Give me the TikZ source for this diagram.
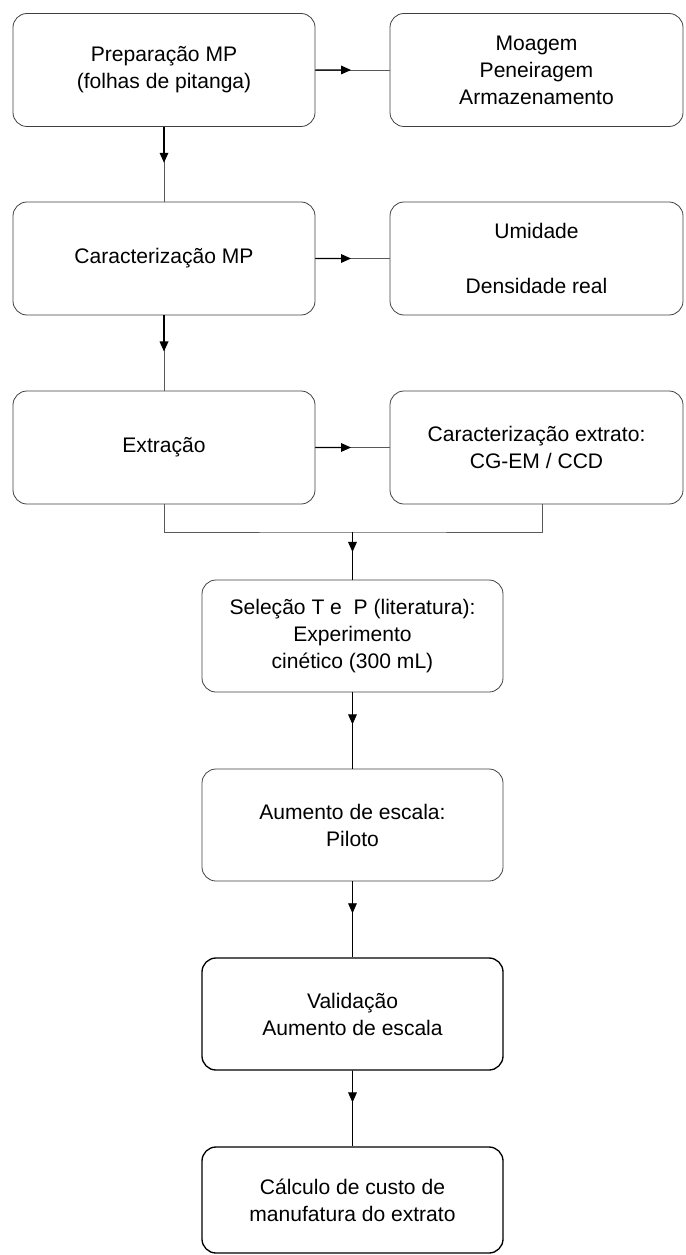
\documentclass[tikz,border=0pt]{standalone}
\usepackage{fontspec}
\setmainfont{Liberation Sans}
\usepackage{tikz}
\usetikzlibrary{arrows.meta,calc}

\begin{document}
\begin{tikzpicture}[
    x=0.75pt, y=-0.75pt,
    box/.style={draw=black!75, line width=0.6pt, rounded corners=10.5pt,
      align=center, inner sep=2pt, font=\fontsize{15.8}{20.3}\selectfont},
    leftbox/.style={box, minimum width=226.5pt, minimum height=84.75pt},
    rightbox/.style={box, minimum width=219.75pt, minimum height=84.75pt},
    midbox/.style={box, minimum width=225.75pt, minimum height=84pt},
    boldbox/.style={midbox, draw=black, line width=1pt},
    wire/.style={draw=black!65, line width=0.5pt},
    headup/.style={draw=black, line width=0.9pt, -{Triangle[length=7.5pt,width=6.5pt]}},
    headlow/.style={draw=black, line width=0.6pt, -{Triangle[length=7.5pt,width=6.5pt]}}
  ]
  \useasboundingbox (0,0) rectangle (685,1255);

  % upper part: two columns
  \node[leftbox]  (prep)  at (164,70)    {Preparação MP\\(folhas de pitanga)};
  \node[rightbox] (moag)  at (536.5,70)  {Moagem\\Peneiragem\\Armazenamento};
  \node[leftbox]  (carac) at (164,258.5) {Caracterização MP};
  \node[rightbox] (umid)  at (536.5,258.5) {Umidade\\[20.3pt]Densidade real};
  \node[leftbox]  (extr)  at (164,447.5) {Extração};
  \node[rightbox] (cext)  at (536.5,447.5) {Caracterização extrato:\\CG-EM / CCD};

  % lower part
  \node[midbox]  (sel)  at (352.5,636)  {Seleção T e~ P (literatura):\\Experimento\\cinético (300 mL)};
  \node[midbox]  (aum)  at (352.5,825)  {Aumento de escala:\\Piloto};
  \node[boldbox] (val)  at (352.5,1014) {Validação\\Aumento de escala};
  \node[boldbox, minimum height=79.5pt] (calc) at (352.5,1200)
    {Cálculo de custo de\\manufatura do extrato};

  \coordinate (split) at (352.5,532);
  \coordinate (cdrop) at (542,504);

  \foreach \a/\b in {prep.east/moag.west, carac.east/umid.west, extr.east/cext.west,
                     prep.south/carac.north, carac.south/extr.north} {
    \draw[wire] (\a) -- (\b);
    \draw[headup] (\a) -- ($(\a)!0.48!(\b)$);
  }

  \draw[wire] (extr.south) |- (split) -| (cdrop);

  \foreach \a/\b in {split/sel.north, sel.south/aum.north,
                     aum.south/val.north, val.south/calc.north} {
    \draw[wire, draw=black] (\a) -- (\b);
    \draw[headlow] (\a) -- ($(\a)!0.42!(\b)$);
  }
\end{tikzpicture}
\end{document}
